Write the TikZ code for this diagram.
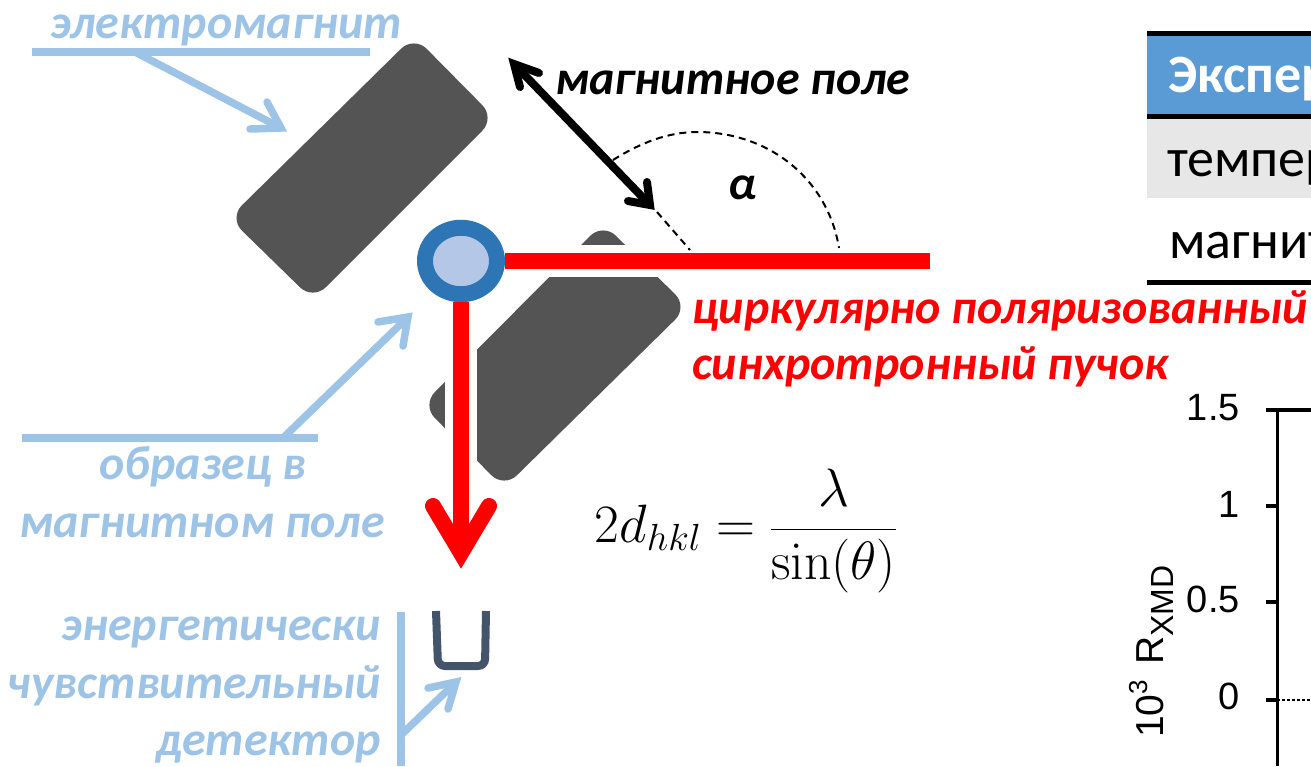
\documentclass[tikz,border=0pt]{standalone}
\usepackage{fix-cm}
\usepackage[no-math]{fontspec}
\usetikzlibrary{shapes.geometric}
\setmainfont{Carlito}
\newfontfamily\arialf{Liberation Sans}
\definecolor{lblue}{HTML}{9DC3E6}
\definecolor{magnet}{HTML}{545454}
\definecolor{ringb}{HTML}{2E75B6}
\definecolor{ringf}{HTML}{B4C7E7}
\definecolor{detc}{HTML}{44546A}
\definecolor{hdr}{HTML}{5B9BD5}
\definecolor{rowg}{HTML}{E7E7E7}
\tikzset{
  px/.style={x=1pt,y=-1pt},
  magnetbody/.style={fill=magnet,rounded corners=18pt},
  bluelbl/.style={inner sep=0pt,text=lblue,font=\fontsize{48}{56}\selectfont\bfseries\itshape},
  blacklbl/.style={inner sep=0pt,text=black,font=\fontsize{48}{56}\selectfont\bfseries\itshape},
  redlbl/.style={inner sep=0pt,text=red,font=\fontsize{48}{56}\selectfont\bfseries\itshape},
  bluerule/.style={draw=lblue,line width=8pt},
  blueshaft/.style={draw=lblue,line width=7.5pt},
  bluearrow/.style={draw=lblue,line width=7.5pt,line cap=round,miter limit=10},
  redbeam/.style={draw=red,line width=16pt},
  tablerule/.style={draw=black,line width=5pt},
  tabletxt/.style={inner sep=0pt,font=\fontsize{54}{62}\selectfont,anchor=base west},
  ticklbl/.style={inner sep=0pt,anchor=base east,font=\arialf\fontsize{38}{44}\selectfont},
  axisline/.style={draw=black,line width=3.2pt},
  thindash/.style={draw=black,line width=2pt,dash pattern=on 7pt off 5pt},
  fieldline/.style={draw=black,line width=8pt},
  fieldhead/.style={draw=black,line width=8pt,line cap=round,miter limit=10},
}
\begin{document}
\begin{tikzpicture}[px]
\useasboundingbox (0,0) rectangle (1311,766);
\clip (0,0) rectangle (1311,766);
% magnets
\fill[magnetbody] (414,36) -- (495,118) -- (313,300) -- (229,218) -- cycle;
\fill[magnetbody] (603,223) -- (688,307) -- (504,488) -- (422,405) -- cycle;
\fill[white] (420,245) rectangle (700,277);
\fill[white] (445,240) rectangle (477,500);
% angle arc and dashed extension
\coordinate (fieldB) at (657,212);
\coordinate (fieldEnd) at (690,250);
\coordinate (arcA) at (613,160);
\coordinate (arcTop) at (697,132);
\coordinate (arcB) at (839,248);
\draw[thindash] (arcA) .. controls (640,143) and (668,132) .. (arcTop) .. controls (770,132) and (828,180) .. (arcB);
\draw[thindash] (fieldB) -- (fieldEnd);
% field arrow
\coordinate (fv1) at (514,64);
\coordinate (fv2) at (650,205);
\draw[fieldline] (fv1) -- (fv2);
\draw[fieldhead] (539,73) -- (fv1) -- (520,87);
\draw[fieldhead] (628,201) -- (fv2) -- (647,182);
% beams
\node[draw=ringb,fill=ringf,line width=16pt,ellipse,minimum width=72pt,minimum height=66.5pt,inner sep=0pt] (sample) at (461,261) {};
\coordinate (beamEnd) at (930,261);
\coordinate (arrowVertex) at (461,553);
\draw[redbeam] (sample.east) -- (beamEnd);
\draw[redbeam] (sample.south) -- (arrowVertex);
\draw[redbeam,line cap=round,miter limit=10] (433,506) -- (arrowVertex) -- (489,506);
% detector
\draw[detc,line width=8pt,rounded corners=7pt] (436,611) -- (438,666) -- (485,666) -- (486,611);
% label leaders
\coordinate (emL) at (32,52); \coordinate (emR) at (370,52);
\coordinate (emS) at (135,52); \coordinate (emV) at (281,128);
\draw[bluerule] (emL) -- (emR);
\draw[blueshaft] (emS) -- (emV);
\draw[bluearrow] (250,129) -- (emV) -- (267,102);
\coordinate (saL) at (22,438); \coordinate (saR) at (318,438);
\coordinate (saS) at (283,438); \coordinate (saV) at (408,317);
\draw[bluerule] (saL) -- (saR);
\draw[blueshaft] (saS) -- (saV);
\draw[bluearrow] (378,322) -- (saV) -- (403,346);
\coordinate (deT) at (401,612); \coordinate (deB) at (401,766);
\coordinate (deS) at (401,735); \coordinate (deV) at (456,682);
\draw[bluerule] (deT) -- (deB);
\draw[blueshaft] (deS) -- (deV);
\draw[bluearrow] (428,688) -- (deV) -- (448,709);
% labels
\node[bluelbl,anchor=base west] (lEm) at (50,38) {электромагнит};
\node[blacklbl,anchor=base west] (lField) at (555,94) {магнитное поле};
\node[blacklbl,anchor=base] (lAlpha) at (743,199) {α};
\node[redlbl,anchor=base west] (lBeamA) at (692,323) {циркулярно поляризованный};
\node[redlbl,anchor=base west] (lBeamB) at (692,379) {синхротронный пучок};
\node[bluelbl,anchor=base] (lSa1) at (203,479) {образец в};
\node[bluelbl,anchor=base] (lSa2) at (202,537) {магнитном поле};
\node[bluelbl,anchor=base east] (lDe1) at (381,640) {энергетически};
\node[bluelbl,anchor=base east] (lDe2) at (381,698) {чувствительный};
\node[bluelbl,anchor=base east] (lDe3) at (381,755) {детектор};
% formula
\node[inner sep=0pt,font=\fontsize{54}{62}\selectfont] (formula) at (746,531) {$\displaystyle 2d_{hkl}=\frac{\lambda}{\sin(\theta)}$};
% table
\fill[hdr] (1147,35) rectangle (1311,114);
\fill[rowg] (1147,119) rectangle (1311,198);
\coordinate (t1) at (1147,33); \coordinate (t1r) at (1311,33);
\coordinate (t2) at (1147,116.5); \coordinate (t2r) at (1311,116.5);
\coordinate (t3) at (1147,282.5); \coordinate (t3r) at (1311,282.5);
\draw[tablerule] (t1) -- (t1r);
\draw[tablerule] (t2) -- (t2r);
\draw[tablerule] (t3) -- (t3r);
\node[tabletxt,text=white,font=\fontsize{54}{62}\selectfont\bfseries] (tHead) at (1168,92) {Экспер};
\node[tabletxt] (tRow1) at (1167,176) {темпер};
\node[tabletxt] (tRow2) at (1169,258) {магнит};
% axis
\coordinate (axT) at (1277.5,410); \coordinate (axB) at (1277.5,766);
\coordinate (topL) at (1266,410); \coordinate (topR) at (1311,410);
\coordinate (t10) at (1266,506); \coordinate (t10r) at (1277,506);
\coordinate (t05) at (1266,602); \coordinate (t05r) at (1277,602);
\coordinate (t00) at (1266,700); \coordinate (t00r) at (1277,700);
\coordinate (dotR) at (1311,700);
\draw[axisline] (axT) -- (axB);
\draw[axisline] (topL) -- (topR);
\draw[axisline] (t10) -- (t10r);
\draw[axisline] (t05) -- (t05r);
\draw[axisline] (t00) -- (t00r);
\draw[black,line width=1.3pt,dash pattern=on 2.5pt off 2.5pt] (t00r) -- (dotR);
\node[ticklbl] (y15) at (1240,420) {1.5};
\node[ticklbl] (y10) at (1240,517) {1};
\node[ticklbl] (y05) at (1240,612) {0.5};
\node[ticklbl] (y00) at (1240,709) {0};
\node[inner sep=0pt,rotate=90,anchor=base west,font=\arialf\fontsize{39}{44}\selectfont] (yLabel) at (1163,738) {10\raisebox{16pt}{\fontsize{26}{30}\selectfont 3}\hspace{15pt}R\raisebox{-10pt}{\fontsize{32}{36}\selectfont XMD}};
\end{tikzpicture}
\end{document}
